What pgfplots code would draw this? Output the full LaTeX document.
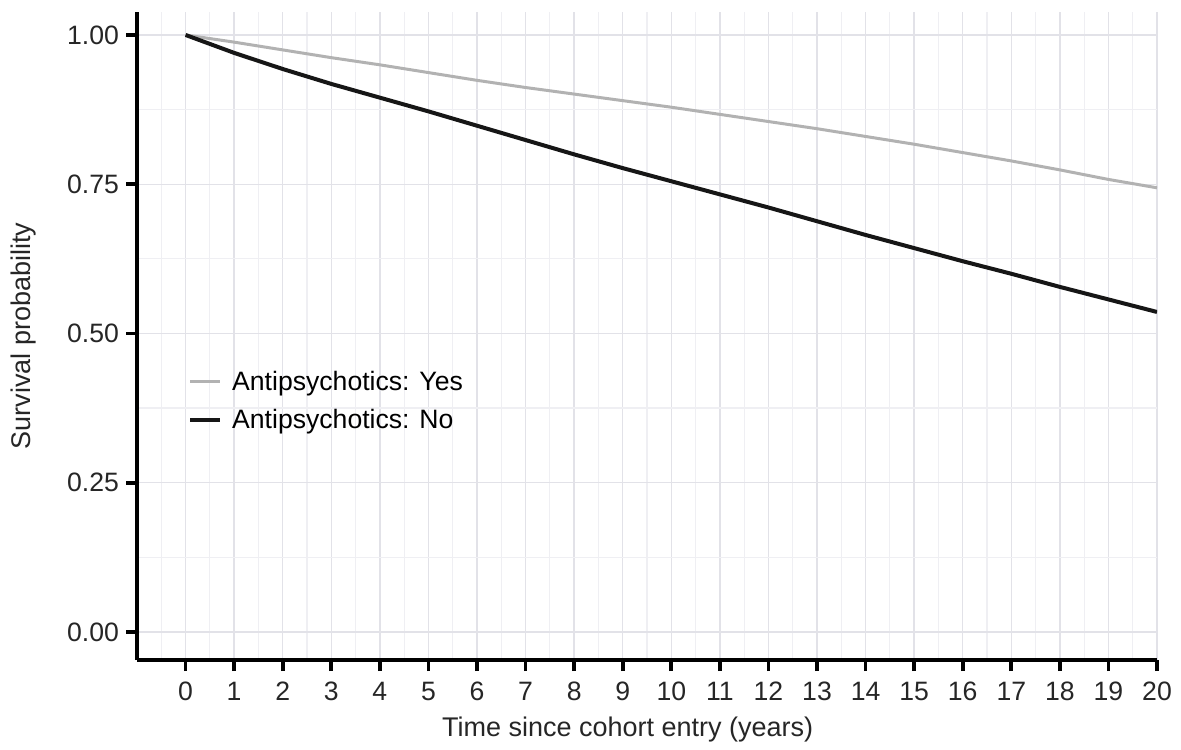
\documentclass[border=0pt]{standalone}
\usepackage{fontspec}
\setmainfont{Liberation Sans}
\usepackage{pgfplots}
\pgfplotsset{compat=1.18}
\definecolor{gridc}{RGB}{226,226,232}
\definecolor{gridm}{RGB}{239,239,243}
\definecolor{yesc}{RGB}{178,178,178}
\definecolor{noc}{RGB}{22,22,22}
\begin{document}
\begin{tikzpicture}
\begin{axis}[
  name=ax,
  scale only axis, width=510pt, height=324pt,
  xmin=-1, xmax=20, ymin=-0.047, ymax=1.0385,
  axis x line*=bottom, axis y line*=left,
  axis line style={line width=2pt, black, -},
  xtick={0,...,20}, ytick={0,0.25,0.5,0.75,1},
  minor xtick={-0.5,0.5,...,19.5}, minor ytick={0.125,0.375,0.625,0.875},
  grid=both,
  major grid style={gridc, line width=0.7pt},
  minor grid style={gridm, line width=0.6pt},
  tick style={black, line width=1.8pt},
  major tick length=5.5pt, minor tick length=0pt,
  tick align=outside,
  /pgf/number format/assume math mode=true,
  yticklabel style={/pgf/number format/.cd, fixed, fixed zerofill, precision=2},
  xticklabel style={yshift=-2pt},
  tick label style={font=\fontsize{13.3}{15}\selectfont, text=black!85},
  xlabel={Time since cohort entry (years)}, ylabel={Survival probability},
  label style={font=\fontsize{13.5}{16}\selectfont, text=black!85},
  xlabel style={at={(axis description cs:0.481,0)}, anchor=center, yshift=-35pt},
  ylabel style={at={(axis description cs:-0.1108,0.5)}, anchor=center},
  legend style={at={(axis description cs:0.0498,0.453)}, anchor=north west, draw=none, fill=none,
    inner sep=0pt, font=\fontsize{13.3}{15}\selectfont, row sep=4pt},
  legend cell align=left,
  legend image code/.code={\draw[#1] (0pt,0pt) -- (15pt,0pt); \path (18pt,0pt);},
]
\addplot[yesc, line width=1.5pt] coordinates {
(0,1.000) (1,0.988) (2,0.975) (3,0.962) (4,0.950) (5,0.937) (6,0.924) (7,0.912) (8,0.901) (9,0.890) (10,0.879) (11,0.867) (12,0.855) (13,0.843) (14,0.830) (15,0.817) (16,0.803) (17,0.789) (18,0.774) (19,0.758) (20,0.744)
};
\addlegendentry{Antipsychotics: Yes}
\addplot[noc, line width=2pt] coordinates {
(0,1.000) (1,0.970) (2,0.943) (3,0.918) (4,0.895) (5,0.872) (6,0.848) (7,0.824) (8,0.800) (9,0.777) (10,0.755) (11,0.733) (12,0.711) (13,0.688) (14,0.665) (15,0.643) (16,0.621) (17,0.600) (18,0.578) (19,0.557) (20,0.536)
};
\addlegendentry{Antipsychotics: No}
\end{axis}
\pgfresetboundingbox
\path ([xshift=-68.5pt,yshift=-44.5pt]ax.south west) rectangle ([xshift=12pt,yshift=6pt]ax.north east);
\end{tikzpicture}
\end{document}
